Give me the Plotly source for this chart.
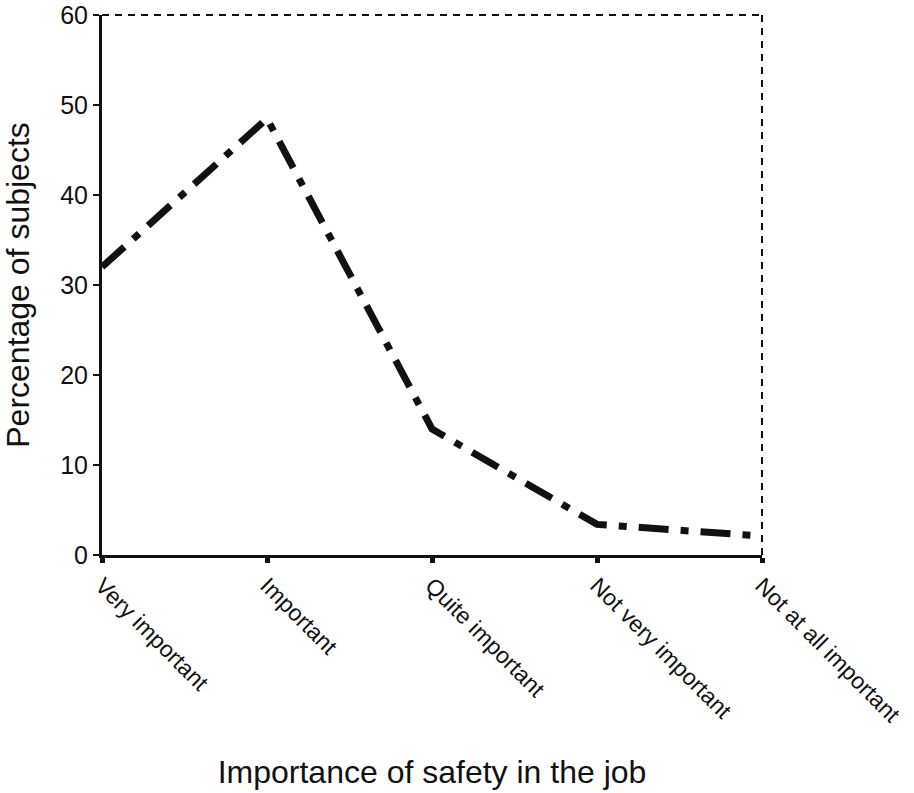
import plotly.graph_objects as go

categories = ["Very important", "Important", "Quite important", "Not very important", "Not at all important"]
percentages = [32, 48.5, 14, 3.4, 2.1]
y_ticks = [0, 10, 20, 30, 40, 50, 60]

FONT = "Liberation Sans, Arial, sans-serif"

fig = go.Figure()
fig.add_trace(go.Scatter(
    x=list(range(len(categories))), y=percentages, mode="lines",
    line=dict(color="#111111", width=7, dash="30px,12px,8px,12px"),
    showlegend=False, hoverinfo="skip", cliponaxis=False,
))

# dashed top and right frame
fig.add_shape(type="line", xref="paper", yref="paper", x0=0, x1=1, y0=1, y1=1,
              line=dict(color="#111111", width=2, dash="7px,6px"))
fig.add_shape(type="line", xref="paper", yref="paper", x0=1, x1=1, y0=0, y1=1,
              line=dict(color="#111111", width=2, dash="7px,6px"))

fig.update_layout(
    width=914, height=793,
    margin=dict(l=102, r=152, t=15, b=238),
    paper_bgcolor="white", plot_bgcolor="white",
    font=dict(family=FONT, color="#111111"),
    xaxis=dict(
        range=[0, 4], tickmode="array", tickvals=list(range(len(categories))),
        ticktext=categories, tickangle=45, showgrid=False, zeroline=False,
        showline=True, linecolor="#111111", linewidth=3, automargin=False,
        ticks="outside", ticklen=5, tickwidth=5, tickcolor="#111111",
        tickfont=dict(size=23, family=FONT),
        title=dict(text="Importance of safety in the job", font=dict(size=32, family=FONT), standoff=34),
    ),
    yaxis=dict(
        range=[0, 60], tickmode="array", tickvals=y_ticks, showgrid=False, zeroline=False,
        showline=True, linecolor="#111111", linewidth=3, automargin=False,
        ticks="outside", ticklen=6, tickwidth=2, tickcolor="#111111",
        tickfont=dict(size=25, family=FONT),
        title=dict(text="Percentage of subjects", font=dict(size=32, family=FONT), standoff=21),
    ),
)

fig.write_html("out.html", config={"displayModeBar": False},
               post_script="document.body.style.margin='0';")
